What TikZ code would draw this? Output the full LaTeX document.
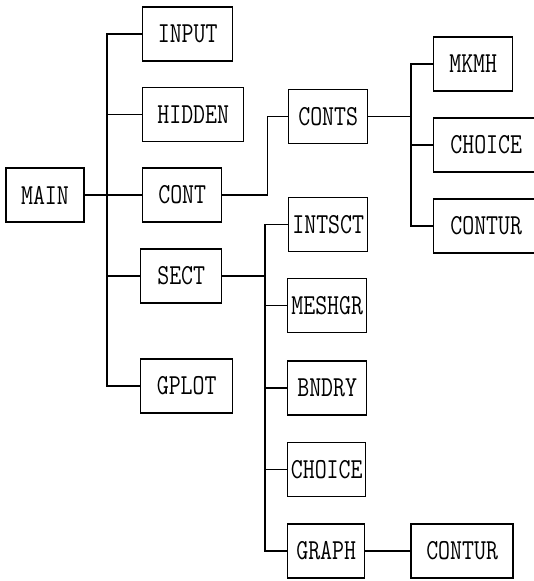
\documentclass[tikz,border=0pt]{standalone}
\usepackage{fontspec}
\newfontfamily\plotfont[FakeStretch=0.8]{Latin Modern Mono}
\usetikzlibrary{positioning}

\begin{document}
\begin{tikzpicture}[
    x=1pt, y=-1pt,
    box/.style={rectangle, draw, line width=1.4pt, minimum height=54pt, inner sep=0pt, font=\fontsize{29}{31}\selectfont\plotfont},
    link/.style={line width=1.3pt}
]
\useasboundingbox (0,0) rectangle (533,581);

% Nodes
\node[box, minimum width=78pt] (main) at (45,195) {MAIN};

\node[box, anchor=west, minimum width=90pt] (input) at (142,34) {INPUT};
\node[box, anchor=west, minimum width=101pt] (hidden) at (142,114.5) {HIDDEN};
\node[box, anchor=west, minimum width=79pt] (cont) at (142,195) {CONT};
\node[box, anchor=west, minimum width=81pt] (sect) at (140,276) {SECT};
\node[box, anchor=west, minimum width=92pt] (gplot) at (140,386) {GPLOT};

\node[box, anchor=west, minimum width=79pt] (conts) at (288,116.5) {CONTS};
\node[box, anchor=west, minimum width=79pt] (mkmh) at (433,64) {MKMH};
\node[box, anchor=west, minimum width=105pt] (choice) at (433,145) {CHOICE};
\node[box, anchor=west, minimum width=105pt] (contur) at (433,226) {CONTUR};

\node[box, anchor=west, minimum width=79pt] (intsct) at (288,224.5) {INTSCT};
\node[box, anchor=west, minimum width=79pt] (meshgr) at (287,305.5) {MESHGR};
\node[box, anchor=west, minimum width=79pt] (bndry) at (287,388) {BNDRY};
\node[box, anchor=west, minimum width=78pt] (choiceb) at (287,469.5) {CHOICE};
\node[box, anchor=west, minimum width=77pt] (graph) at (287,551) {GRAPH};
\node[box, right=45pt of graph, minimum width=102pt] (conturb) {CONTUR};

% Buses
\coordinate (busmain) at (107,195);
\coordinate (busconts) at (411,145);
\coordinate (bussect) at (265,276);

% Connections
\draw[link] (main) -- (cont);
\draw[link] (input.west) -| (busmain) |- (gplot.west);
\draw[link] (hidden.west) -- (hidden.west -| busmain);
\draw[link] (sect.west) -- (sect.west -| busmain);

\draw[link] (cont.east) -- ++(45,0) |- (conts.west);
\draw[link] (conts.east) -- (conts.east -| busconts);
\draw[link] (mkmh.west) -| (busconts) |- (contur.west);
\draw[link] (choice.west) -- (choice.west -| busconts);

\draw[link] (sect.east) -- (bussect);
\draw[link] (intsct.west) -| (bussect) |- (graph.west);
\draw[link] (meshgr.west) -- (meshgr.west -| bussect);
\draw[link] (bndry.west) -- (bndry.west -| bussect);
\draw[link] (choiceb.west) -- (choiceb.west -| bussect);
\draw[link] (graph) -- (conturb);

\end{tikzpicture}
\end{document}
